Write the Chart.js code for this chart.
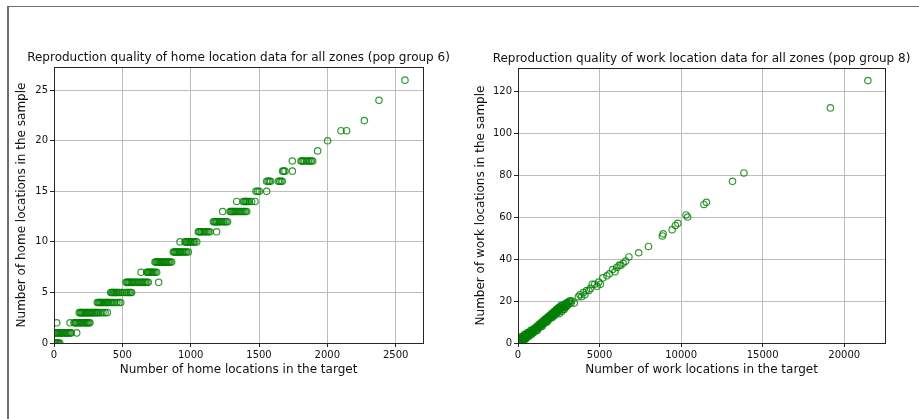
<!DOCTYPE html>
<html>
<head>
<meta charset="utf-8">
<script src="https://cdn.jsdelivr.net/npm/chart.js@4/dist/chart.umd.min.js"></script>
<style>
  html, body { margin: 0; padding: 0; background: #fff; overflow: hidden; }
  body { width: 919px; height: 419px; position: relative; }
  #frame {
    position: absolute; left: 7px; top: 6px; width: 940px; height: 440px;
    border-top: 1px solid #6e6e6e; border-left: 2px solid #6e6e6e;
  }
  .panel { position: absolute; top: 0; height: 419px; }
  #left  { left: 0;     width: 460px; }
  #right { left: 460px; width: 459px; }
</style>
</head>
<body>
<div id="frame"></div>
<div class="panel" id="left"><canvas id="chart-home" width="460" height="419"></canvas></div>
<div class="panel" id="right"><canvas id="chart-work" width="459" height="419"></canvas></div>
<script>
// --- Data: home locations, pop group 6 ---
const homeTitle  = 'Reproduction quality of home location data for all zones (pop group 6)';
const homeXLabel = 'Number of home locations in the target';
const homeYLabel = 'Number of home locations in the sample';
const homeXTicks = [0, 500, 1000, 1500, 2000, 2500];
const homeYTicks = [0, 5, 10, 15, 20, 25];
// sample count -> target counts of the zones having it
const homeLevels  = [0, 1, 2, 3, 4, 5, 6, 7, 8, 9, 10, 11, 12, 13, 14, 15, 16, 17, 18, 19, 20, 21, 22, 24, 26];
const homeTargets = [
  [3, 8, 14, 20, 27, 34, 42],
  [6, 13, 20, 27, 34, 41, 48, 56, 63, 70, 78, 86, 94, 102, 110, 118, 126, 166],
  [20, 117, 146, 153, 160, 168, 176, 184, 192, 200, 208, 216, 224, 232, 240, 248, 256, 263],
  [185, 192, 199, 206, 213, 220, 227, 234, 241, 248, 255, 262, 270, 278, 286, 294, 302, 310, 318, 326, 340, 358, 374, 390],
  [317, 324, 331, 338, 345, 352, 360, 368, 376, 384, 392, 400, 410, 420, 432, 445, 460, 475, 488],
  [415, 422, 429, 436, 443, 450, 458, 466, 475, 485, 500, 515, 530, 540, 550, 560, 568],
  [527, 534, 541, 548, 556, 564, 572, 580, 590, 600, 610, 620, 630, 640, 650, 660, 670, 680, 690, 766],
  [637, 678, 685, 692, 699, 706, 713, 720, 730, 740, 751],
  [739, 746, 753, 760, 767, 774, 781, 788, 795, 802, 810, 818, 826, 834, 842, 850, 861],
  [873, 880, 887, 894, 901, 908, 915, 922, 930, 940, 950, 960, 970, 983],
  [922, 958, 965, 972, 979, 986, 993, 1000, 1010, 1020, 1030, 1044],
  [1056, 1063, 1070, 1080, 1090, 1100, 1110, 1120, 1130, 1141, 1190],
  [1166, 1173, 1180, 1187, 1194, 1201, 1210, 1220, 1230, 1240, 1250, 1260, 1270],
  [1234, 1288, 1295, 1302, 1309, 1316, 1323, 1330, 1340, 1350, 1360, 1370, 1380, 1390, 1400, 1410],
  [1337, 1385, 1392, 1399, 1406, 1413, 1420, 1430, 1446, 1471],
  [1478, 1490, 1502, 1556],
  [1556, 1566, 1576, 1585, 1641, 1651, 1661, 1670],
  [1673, 1680, 1690, 1744],
  [1744, 1807, 1815, 1824, 1836, 1849, 1861, 1873, 1883, 1893],
  [1929],
  [2002],
  [2100, 2141],
  [2271],
  [2378],
  [2568]
];

// --- Data: work locations, pop group 8 ---
const workTitle  = 'Reproduction quality of work location data for all zones (pop group 8)';
const workXLabel = 'Number of work locations in the target';
const workYLabel = 'Number of work locations in the sample';
const workXTicks = [0, 5000, 10000, 15000, 20000];
const workYTicks = [0, 20, 40, 60, 80, 100, 120];
// [target, sample]
const workPairs = [
  [10, 0], [20, 0], [30, 1], [40, 1], [50, 0], [60, 0], [70, 1], [80, 1], [90, 0], [100, 2],
  [110, 1], [120, 1], [130, 0], [140, 1], [150, 2], [160, 1], [170, 2], [180, 1], [190, 2], [200, 3],
  [210, 1], [230, 2], [240, 2], [250, 1], [260, 3], [270, 1], [280, 2], [290, 2], [300, 2], [320, 3],
  [330, 2], [340, 3], [350, 2], [360, 1], [380, 4], [390, 3], [410, 3], [420, 2], [430, 2], [440, 3],
  [450, 3], [470, 4], [480, 2], [500, 3], [510, 4], [520, 4], [530, 3], [540, 4], [560, 3], [580, 5],
  [600, 4], [620, 4], [640, 3], [660, 5], [680, 4], [700, 4], [720, 5], [740, 5], [760, 4], [780, 6],
  [800, 5], [820, 5], [840, 4], [860, 6], [880, 5], [900, 5], [920, 6], [950, 6], [970, 5], [1000, 7],
  [1020, 6], [1050, 6], [1070, 7], [1100, 7], [1120, 6], [1150, 8], [1170, 7], [1180, 6], [1200, 7], [1220, 8],
  [1250, 8], [1270, 7], [1300, 9], [1320, 8], [1350, 8], [1370, 9], [1400, 9], [1420, 8], [1450, 10], [1470, 9],
  [1480, 8], [1500, 9], [1520, 10], [1550, 10], [1570, 9], [1600, 11], [1620, 10], [1650, 10], [1670, 11], [1700, 11],
  [1720, 10], [1750, 12], [1770, 11], [1780, 10], [1800, 11], [1820, 12], [1850, 12], [1870, 11], [1900, 13], [1920, 12],
  [1950, 12], [1970, 13], [2000, 13], [2020, 12], [2050, 14], [2070, 13], [2080, 12], [2100, 13], [2120, 14], [2150, 14],
  [2170, 13], [2200, 15], [2220, 14], [2230, 13], [2250, 14], [2270, 15], [2300, 15], [2320, 14], [2350, 16], [2370, 15],
  [2380, 14], [2400, 15], [2420, 16], [2450, 16], [2470, 15], [2500, 17], [2520, 16], [2530, 14], [2550, 16], [2570, 17],
  [2600, 17], [2620, 16], [2650, 18], [2670, 17], [2680, 15], [2700, 17], [2720, 18], [2750, 16], [2780, 17], [2800, 18],
  [2830, 16], [2850, 17], [2880, 18], [2900, 18], [2930, 17], [2950, 19], [2980, 19], [3000, 18], [3050, 18], [3100, 19],
  [3150, 20], [3200, 20], [3250, 19], [3300, 20], [3450, 19],
  [3700, 22], [3800, 23], [3900, 22], [4000, 24], [4100, 23], [4200, 25], [4350, 25], [4450, 26], [4550, 28], [4700, 28],
  [4850, 27], [4950, 29], [5050, 28], [5200, 31], [5450, 32], [5600, 33], [5800, 35], [5950, 34], [6050, 36], [6200, 37],
  [6300, 37], [6450, 38], [6600, 39], [6800, 41], [7400, 43], [8000, 46], [8850, 51], [8900, 52], [9450, 54], [9650, 56],
  [9800, 57], [10300, 61], [10400, 60], [11400, 66], [11550, 67], [13150, 77], [13850, 81], [19150, 112], [21450, 125]
];

// --- Styles ---
const MARK  = 'rgba(0,128,0,0.8)';
const GRID  = '#bdbdbd';
const SPINE = '#262626';
const FONT  = 'DejaVu Sans';

const homePoints = [];
homeLevels.forEach((y, i) => homeTargets[i].forEach(x => homePoints.push({ x, y })));
const workPoints = workPairs.map(([x, y]) => ({ x, y }));

// matplotlib-like title above the axes + closed axes box
const axesBox = {
  id: 'axesBox',
  afterDraw(chart, args, opts) {
    const { ctx, chartArea: a } = chart;
    ctx.save();
    ctx.strokeStyle = SPINE;
    ctx.lineWidth = 1;
    ctx.strokeRect(a.left + 0.5, a.top + 0.5, a.right - a.left, a.bottom - a.top);
    ctx.fillStyle = '#111';
    ctx.font = '12px ' + FONT;
    ctx.textAlign = 'center';
    ctx.textBaseline = 'alphabetic';
    ctx.fillText(opts.text, (a.left + a.right) / 2, a.top - 6);
    ctx.restore();
  }
};

function makeChart(id, pts, cfg) {
  const fixTicks = list => scale => { scale.ticks = list.map(value => ({ value })); };
  return new Chart(document.getElementById(id), {
    type: 'scatter',
    data: {
      datasets: [{
        data: pts,
        borderColor: MARK,
        backgroundColor: 'rgba(0,0,0,0)',
        borderWidth: 1.2,
        pointRadius: 3.2,
        clip: 0,
      }]
    },
    plugins: [axesBox],
    options: {
      animation: false,
      responsive: false,
      events: [],
      layout: { padding: cfg.padding },
      plugins: {
        legend: { display: false },
        tooltip: { enabled: false },
        axesBox: { text: cfg.title },
      },
      scales: {
        x: {
          type: 'linear',
          min: 0, max: cfg.xMax,
          afterBuildTicks: fixTicks(cfg.xTicks),
          afterFit: s => { s.height = cfg.xAxisH; },
          grid: { color: GRID, tickColor: SPINE, tickLength: 4, lineWidth: 1 },
          border: { color: SPINE },
          ticks: {
            autoSkip: false, maxRotation: 0, padding: 2,
            color: '#111', font: { family: FONT, size: 10 },
            callback: v => String(v),
          },
          title: {
            display: true, text: cfg.xLabel, color: '#111',
            font: { family: FONT, size: 12 }, padding: { top: 0, bottom: 2 },
          },
        },
        y: {
          type: 'linear',
          min: 0, max: cfg.yMax,
          afterBuildTicks: fixTicks(cfg.yTicks),
          afterFit: s => { s.width = cfg.yAxisW; },
          grid: { color: GRID, tickColor: SPINE, tickLength: 4, lineWidth: 1 },
          border: { color: SPINE },
          ticks: {
            autoSkip: false, padding: 2,
            color: '#111', font: { family: FONT, size: 10 },
            callback: v => String(v),
          },
          title: {
            display: true, text: cfg.yLabel, color: '#111',
            font: { family: FONT, size: 12 }, padding: { top: 4, bottom: 0 },
          },
        },
      },
    },
  });
}

// --- Charts ---
makeChart('chart-home', homePoints, {
  title: homeTitle, xLabel: homeXLabel, yLabel: homeYLabel,
  xMax: 2700, yMax: 27.3, xTicks: homeXTicks, yTicks: homeYTicks,
  padding: { left: 11, right: 37, top: 67, bottom: 40 },
  yAxisW: 43, xAxisH: 36,
});

makeChart('chart-work', workPoints, {
  title: workTitle, xLabel: workXLabel, yLabel: workYLabel,
  xMax: 22500, yMax: 131, xTicks: workXTicks, yTicks: workYTicks,
  padding: { left: 10, right: 34, top: 68, bottom: 40 },
  yAxisW: 48, xAxisH: 36,
});
</script>
</body>
</html>
